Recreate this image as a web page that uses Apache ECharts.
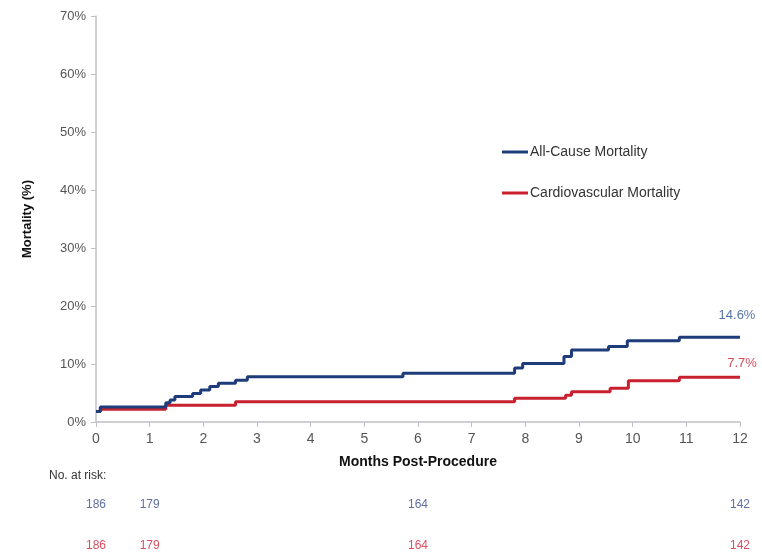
<!DOCTYPE html>
<html>
<head>
<meta charset="utf-8">
<script src="https://cdn.jsdelivr.net/npm/echarts@6/dist/echarts.min.js"></script>
<style>html,body{margin:0;padding:0;background:#fff}#c{width:762px;height:553px}</style>
</head>
<body>
<div id="c"></div>
<script>
// ---- data ----
var allCauseMonths = [0, 0.08, 1.3, 1.38, 1.47, 1.8, 1.95, 2.12, 2.28, 2.6, 2.82, 5.72, 7.8, 7.95, 8.72, 8.86, 9.55, 9.9, 10.87, 12];
var allCauseValues = [1.8, 2.6, 3.3, 3.8, 4.4, 4.9, 5.5, 6.1, 6.7, 7.2, 7.8, 8.4, 9.3, 10.1, 11.3, 12.4, 13.0, 14.0, 14.6, 14.6];
var cvMonths = [0, 0.08, 1.3, 2.6, 7.8, 8.75, 8.86, 9.58, 9.92, 10.87, 12];
var cvValues = [1.8, 2.2, 2.9, 3.5, 4.1, 4.6, 5.2, 5.8, 7.1, 7.7, 7.7];
var seriesNames = ['All-Cause Mortality', 'Cardiovascular Mortality'];
var endLabels = ['14.6%', '7.7%'];
var riskMonths = [0, 1, 6, 12];
var riskAllCause = [186, 179, 164, 142];
var riskCV = [186, 179, 164, 142];

var BLUE = '#1f3c7a', RED = '#c8202e';
var font = 'Liberation Sans, Arial, sans-serif';

function pairs(xs, ys) {
  return xs.map(function (x, i) { return [x, ys[i]]; });
}
function riskData(vals, yv) {
  return riskMonths.map(function (m, i) { return { value: [m, yv], name: String(vals[i]) }; });
}
function endPoint(xs, ys, lbl) {
  return [{ value: [xs[xs.length - 1], ys[ys.length - 1]], name: lbl }];
}

var chart = echarts.init(document.getElementById('c'), null, { renderer: 'canvas' });
chart.setOption({
  animation: false,
  backgroundColor: '#fff',
  textStyle: { fontFamily: font },
  grid: [
    { left: 96, right: 22, top: 16, bottom: 131 },
    { left: 96, right: 22, top: 505, height: 41 }
  ],
  legend: {
    orient: 'vertical', left: 497, top: 140, itemGap: 27,
    itemWidth: 26, itemHeight: 3, icon: 'rect',
    textStyle: { fontSize: 14, color: '#333', fontFamily: font, padding: [0, 0, 0, -3] },
    data: seriesNames
  },
  xAxis: [{
    gridIndex: 0, type: 'value', min: 0, max: 12, interval: 1,
    name: 'Months Post-Procedure', nameLocation: 'middle', nameGap: 33,
    nameTextStyle: { fontSize: 14, fontWeight: 'bold', color: '#111' },
    axisLine: { lineStyle: { color: '#c0c0c8', width: 1.5 } },
    axisTick: { show: true, length: 5, lineStyle: { color: '#c0c0c8' } },
    axisLabel: { fontSize: 14, color: '#555', margin: 10 },
    splitLine: { show: false }
  }, {
    gridIndex: 1, type: 'value', min: 0, max: 12, show: false
  }],
  yAxis: [{
    gridIndex: 0, type: 'value', min: 0, max: 70, interval: 10,
    name: 'Mortality (%)', nameLocation: 'middle', nameGap: 62, nameRotate: 90,
    nameTextStyle: { fontSize: 13, fontWeight: 'bold', color: '#111' },
    axisLine: { show: true, lineStyle: { color: '#c0c0c8', width: 1.5 } },
    axisTick: { show: true, length: 5, lineStyle: { color: '#c0c0c8' } },
    axisLabel: { fontSize: 13, color: '#555', margin: 10, formatter: '{value}%' },
    splitLine: { show: false }
  }, {
    gridIndex: 1, type: 'value', min: 0, max: 1, show: false
  }],
  graphic: [{
    type: 'text', left: 49, top: 470,
    style: { text: 'No. at risk:', fontSize: 12, fill: '#333', fontFamily: font }
  }],
  series: [{
    name: seriesNames[0], type: 'line', step: 'end', showSymbol: false, symbol: 'none',
    xAxisIndex: 0, yAxisIndex: 0,
    lineStyle: { color: BLUE, width: 3 }, itemStyle: { color: BLUE },
    data: pairs(allCauseMonths, allCauseValues), z: 3
  }, {
    name: seriesNames[1], type: 'line', step: 'end', showSymbol: false, symbol: 'none',
    xAxisIndex: 0, yAxisIndex: 0,
    lineStyle: { color: RED, width: 3 }, itemStyle: { color: RED },
    data: pairs(cvMonths, cvValues), z: 2
  }, {
    type: 'scatter', xAxisIndex: 0, yAxisIndex: 0, symbolSize: 0, silent: true,
    label: { show: true, position: 'top', distance: 15, offset: [-3, 0], formatter: '{b}', color: '#2c4f8f', fontSize: 13, fontFamily: font },
    data: endPoint(allCauseMonths, allCauseValues, endLabels[0])
  }, {
    type: 'scatter', xAxisIndex: 0, yAxisIndex: 0, symbolSize: 0, silent: true,
    label: { show: true, position: 'top', distance: 7, offset: [2, 0], formatter: '{b}', color: '#c8202e', fontSize: 13, fontFamily: font },
    data: endPoint(cvMonths, cvValues, endLabels[1])
  }, {
    type: 'scatter', xAxisIndex: 1, yAxisIndex: 1, symbolSize: 0, silent: true,
    label: { show: true, position: 'inside', formatter: '{b}', color: '#3a4a8a', fontSize: 12, fontFamily: font },
    data: riskData(riskAllCause, 1)
  }, {
    type: 'scatter', xAxisIndex: 1, yAxisIndex: 1, symbolSize: 0, silent: true,
    label: { show: true, position: 'inside', formatter: '{b}', color: '#d0203a', fontSize: 12, fontFamily: font },
    data: riskData(riskCV, 0)
  }]
});
</script>
</body>
</html>
